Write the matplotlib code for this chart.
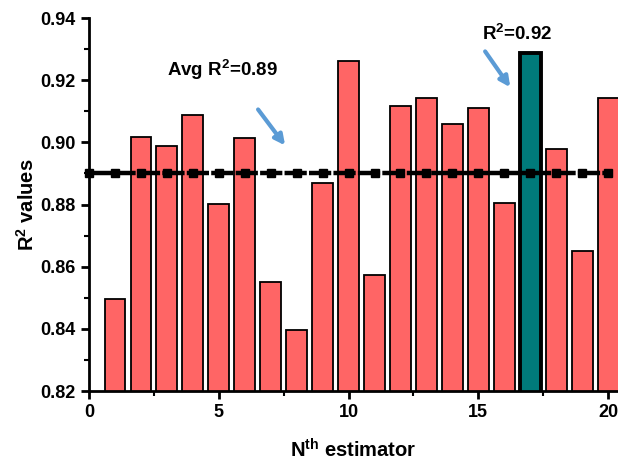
import matplotlib
matplotlib.use("Agg")
from matplotlib import pyplot as plt
from matplotlib.ticker import MultipleLocator, FormatStrFormatter

plt.rcParams['font.family'] = ['Liberation Sans', 'DejaVu Sans']
plt.rcParams['font.weight'] = 'bold'
plt.rcParams['mathtext.fontset'] = 'custom'
plt.rcParams['mathtext.rm'] = 'Liberation Sans:bold'
plt.rcParams['mathtext.it'] = 'Liberation Sans:bold'
plt.rcParams['mathtext.bf'] = 'Liberation Sans:bold'

# data
estimators = list(range(1, 21))
r2_values = [0.8496, 0.9017, 0.8988, 0.9088, 0.8802, 0.9014, 0.8551, 0.8396, 0.8869, 0.9262,
             0.8574, 0.9117, 0.9143, 0.9059, 0.9111, 0.8805, 0.9288, 0.8979, 0.8650, 0.9143]
best_idx = 16  # estimator 17
avg_r2 = 0.89
avg_x = list(range(0, 21))

bar_color = '#FF6565'
best_color = '#007A7A'

fig = plt.figure(figsize=(6.18, 4.63), dpi=100)
ax = fig.add_axes([0.144, 0.1555, 0.856, 0.8055])

colors = [best_color if i == best_idx else bar_color for i in range(len(r2_values))]
edges = [2.8 if i == best_idx else 1.3 for i in range(len(r2_values))]
ax.bar(estimators, r2_values, width=0.8, color=colors, edgecolor='black', linewidth=edges, zorder=2)

#average line
ax.plot(avg_x, [avg_r2] * len(avg_x), color='black', linewidth=3.2, linestyle=(0, (5, 0.5)),
        marker='s', markersize=5.5, zorder=3, clip_on=False)

ax.text(5.15, 0.9232, 'Avg R$^{2}$=0.89', fontsize=13.5, fontweight='bold', ha='center', va='center')
ax.text(16.5, 0.9350, 'R$^{2}$=0.92', fontsize=13.5, fontweight='bold', ha='center', va='center')
ax.annotate('', xy=(7.62, 0.8983), xytext=(6.45, 0.9113),
            arrowprops=dict(arrowstyle='-|>', color='#5B9BD5', lw=3, mutation_scale=15))
ax.annotate('', xy=(16.29, 0.9170), xytext=(15.2, 0.9300),
            arrowprops=dict(arrowstyle='-|>', color='#5B9BD5', lw=3, mutation_scale=15))

ax.set_xlim(0, 20.38)
ax.set_ylim(0.82, 0.94)
ax.xaxis.set_major_locator(MultipleLocator(5))
ax.xaxis.set_minor_locator(MultipleLocator(2.5))
ax.yaxis.set_major_locator(MultipleLocator(0.02))
ax.yaxis.set_minor_locator(MultipleLocator(0.01))
ax.yaxis.set_major_formatter(FormatStrFormatter('%.2f'))
ax.tick_params(which='major', direction='out', length=6, width=2, labelsize=13)
ax.tick_params(which='minor', direction='out', length=3.5, width=1.5)
for lbl in ax.get_xticklabels() + ax.get_yticklabels():
    lbl.set_fontweight('bold')

ax.spines['top'].set_visible(False)
ax.spines['right'].set_visible(False)
ax.spines['left'].set_linewidth(2)
ax.spines['bottom'].set_linewidth(2)

ax.set_xlabel('N$^{th}$ estimator', fontsize=14.5, fontweight='bold', labelpad=12)
ax.set_ylabel('R$^{2}$ values', fontsize=14.5, fontweight='bold', labelpad=2)

fig.savefig('out.png', dpi=100)
